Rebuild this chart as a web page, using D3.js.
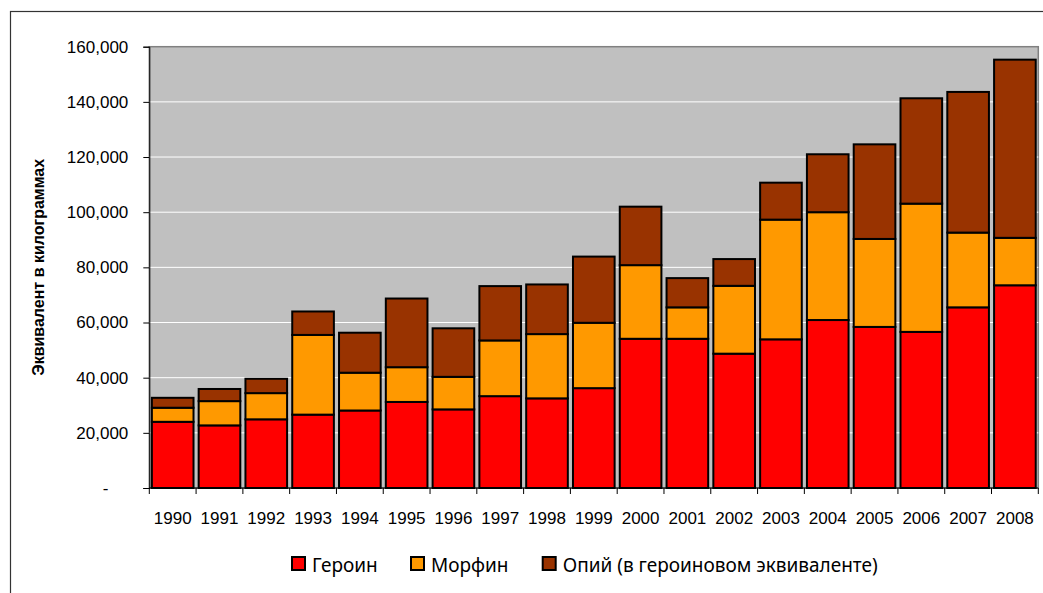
<!DOCTYPE html>
<html lang="ru">
    <head>
        <title></title>
        <meta charset="UTF-8">
        <script src="https://d3js.org/d3.v7.min.js"></script>
    </head>
    <style>
        body { margin: 0; background: #fff; }
        .tick text { font-family: "Liberation Sans", Arial, sans-serif; font-size: 17px; fill: #000; }
    </style>
    <body>
        <script>
            // данные
            var years = ["1990","1991","1992","1993","1994","1995","1996","1997","1998","1999",
                         "2000","2001","2002","2003","2004","2005","2006","2007","2008"];
            var heroin   = [24000,22700,24900,26600,28100,31200,28500,33300,32500,36200,54100,54100,48700,53900,60900,58400,56600,65500,73500];
            var morphine = [5100,8800,9500,28900,13700,12600,11800,20200,23300,23700,26700,11400,24600,43400,39100,31900,46500,27100,17200];
            var opium    = [3600,4400,5200,8500,14500,24900,17600,19700,18000,24000,21200,10600,9700,13400,21000,34300,38200,51000,64600];
            var seriesNames = ["Героин", "Морфин", "Опий (в героиновом эквиваленте)"];
            var colors = ["#ff0000", "#ff9900", "#993300"];
            var yTicks = [0,20000,40000,60000,80000,100000,120000,140000,160000];

            var width = 1043, height = 593;
            var pLeft = 149.3, pRight = 1038.3, pTop = 46.7, pBottom = 488;

            var svg = d3.select("body").append("svg")
                .attr("width", width)
                .attr("height", height);

            // внешняя рамка
            svg.append("rect")
                .attr("x", 10.5).attr("y", 11.5)
                .attr("width", 1100).attr("height", 700)
                .attr("fill", "none")
                .attr("stroke", "#333")
                .attr("stroke-width", 1.2);

            var x = d3.scaleBand().domain(years).range([pLeft, pRight])
                .paddingInner(0.11).paddingOuter(0.055);
            var y = d3.scaleLinear().domain([0, 160000]).range([pBottom, pTop]);

            // фон области построения
            svg.append("rect")
                .attr("x", pLeft).attr("y", pTop)
                .attr("width", pRight - pLeft).attr("height", pBottom - pTop)
                .attr("fill", "#c0c0c0")
                .attr("stroke", "#808080")
                .attr("stroke-width", 1.5);

            // сетка
            svg.append("g").selectAll("line")
                .data(yTicks.filter(function(d){ return d > 0 && d < 160000; }))
                .enter().append("line")
                .attr("x1", pLeft).attr("x2", pRight)
                .attr("y1", function(d){ return y(d); })
                .attr("y2", function(d){ return y(d); })
                .attr("stroke", "#fff")
                .attr("stroke-width", 1);

            // стек
            var table = years.map(function(yr, i){
                return { year: yr, h: heroin[i], m: morphine[i], o: opium[i] };
            });
            var stack = d3.stack().keys(["h", "m", "o"])(table);

            svg.append("g").selectAll("g")
                .data(stack)
                .enter().append("g")
                .attr("fill", function(d, i){ return colors[i]; })
                .selectAll("rect")
                .data(function(d){ return d; })
                .enter().append("rect")
                .attr("x", function(d){ return x(d.data.year); })
                .attr("width", x.bandwidth())
                .attr("y", function(d){ return y(d[1]); })
                .attr("height", function(d){ return y(d[0]) - y(d[1]); })
                .attr("stroke", "#000")
                .attr("stroke-width", 2);

            // ось Y
            var yAxis = svg.append("g")
                .attr("transform", "translate(" + pLeft + ",0)")
                .call(d3.axisLeft(y).tickValues(yTicks).tickSize(6).tickPadding(15)
                    .tickFormat(function(d){ return d === 0 ? "-" : d3.format(",")(d); }));
            yAxis.select(".domain").attr("stroke", "#000");
            yAxis.selectAll(".tick line").attr("stroke", "#000");
            yAxis.selectAll(".tick text").filter(function(d){ return d === 0; }).attr("x", -41);

            // ось X
            var xAxis = svg.append("g")
                .attr("transform", "translate(0," + pBottom + ")")
                .call(d3.axisBottom(x).tickSize(0).tickPadding(24));
            xAxis.select(".domain").remove();
            svg.append("line")
                .attr("x1", pLeft).attr("x2", pRight)
                .attr("y1", pBottom).attr("y2", pBottom)
                .attr("stroke", "#000");
            // деления между категориями
            var half = x.step() * x.paddingInner() / 2;
            svg.append("g").selectAll("line")
                .data(years.concat(["end"]))
                .enter().append("line")
                .attr("x1", function(d){ return d === "end" ? pRight : x(d) - half; })
                .attr("x2", function(d){ return d === "end" ? pRight : x(d) - half; })
                .attr("y1", pBottom).attr("y2", pBottom + 6)
                .attr("stroke", "#000");

            // подпись оси Y
            svg.append("text")
                .attr("transform", "translate(38," + ((pTop + pBottom) / 2) + ") rotate(-90)")
                .attr("text-anchor", "middle")
                .attr("dominant-baseline", "central")
                .style("font-family", "'Liberation Sans', Arial, sans-serif")
                .style("font-weight", "bold")
                .style("font-size", "16px")
                .text("Эквивалент в килограммах");

            // легенда
            var legendX = [291, 410, 541.7];
            var legend = svg.append("g").selectAll("g")
                .data(seriesNames)
                .enter().append("g")
                .attr("transform", function(d, i){ return "translate(" + legendX[i] + ",556)"; });
            legend.append("rect")
                .attr("x", 1).attr("y", 1)
                .attr("width", 13).attr("height", 13)
                .attr("fill", function(d, i){ return colors[i]; })
                .attr("stroke", "#000")
                .attr("stroke-width", 2);
            legend.append("text")
                .attr("x", 21).attr("y", 15.5)
                .style("font-family", "'Noto Sans', sans-serif")
                .style("font-size", "19px")
                .text(function(d){ return d; });
        </script>
    </body>
</html>
